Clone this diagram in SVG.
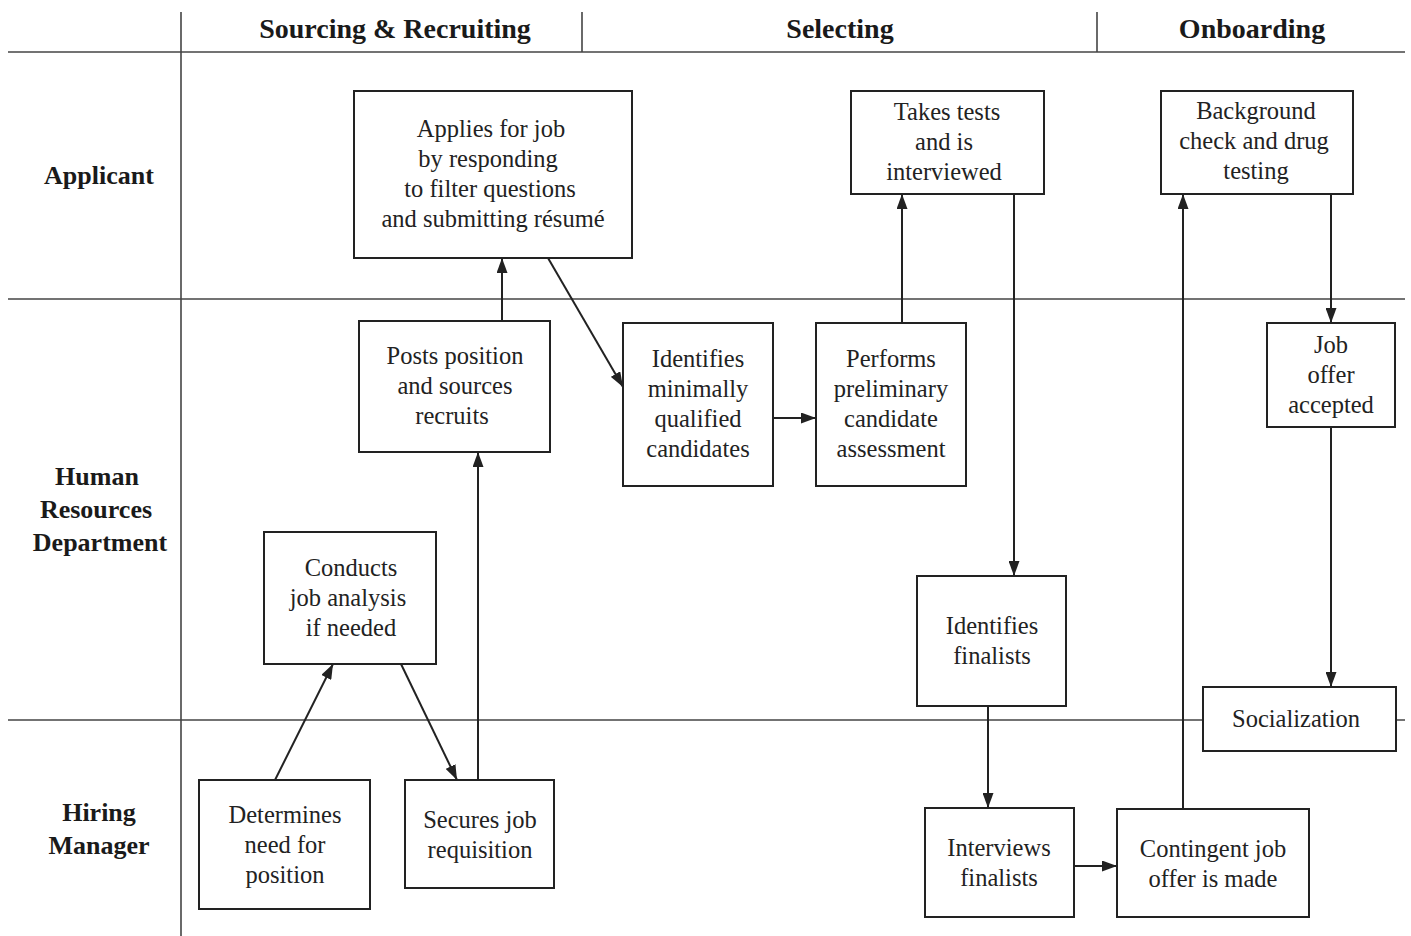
<svg xmlns="http://www.w3.org/2000/svg" width="1411" height="936" viewBox="0 0 1411 936">
<style>
.lane{stroke:#444;stroke-width:1.6;fill:none}
.box{fill:#fff;stroke:#222;stroke-width:2}
.t{font-family:"Liberation Serif","Times New Roman",serif;font-size:24.5px;fill:#222;text-anchor:middle}
.h{font-family:"Liberation Serif","Times New Roman",serif;font-size:28px;font-weight:bold;fill:#1a1a1a;text-anchor:middle}
.l{font-family:"Liberation Serif","Times New Roman",serif;font-size:26px;font-weight:bold;fill:#1a1a1a;text-anchor:middle}
.c{stroke:#222;stroke-width:2;fill:none;marker-end:url(#ah)}
</style>
<defs>
<marker id="ah" viewBox="0 0 15 11" refX="15" refY="5.5" markerWidth="15" markerHeight="11" markerUnits="userSpaceOnUse" orient="auto">
<path d="M0,0 L15,5.5 L0,11 Z" fill="#222"/>
</marker>
</defs>
<rect width="1411" height="936" fill="#fff"/>
<g id="lanes">
<line class="lane" x1="8" y1="52" x2="1405" y2="52"/>
<line class="lane" x1="8" y1="299" x2="1405" y2="299"/>
<line class="lane" x1="8" y1="720" x2="1405" y2="720"/>
<line class="lane" x1="181" y1="12" x2="181" y2="936"/>
<line class="lane" x1="582" y1="12" x2="582" y2="52"/>
<line class="lane" x1="1097" y1="12" x2="1097" y2="52"/>
<text class="h" x="395" y="38">Sourcing &amp; Recruiting</text>
<text class="h" x="840" y="38">Selecting</text>
<text class="h" x="1252" y="38">Onboarding</text>
<text class="l" x="99" y="184">Applicant</text>
<text class="l" x="97" y="485">Human</text>
<text class="l" x="96" y="518">Resources</text>
<text class="l" x="100" y="551">Department</text>
<text class="l" x="99" y="821">Hiring</text>
<text class="l" x="99" y="854">Manager</text>
</g>
<g id="connectors">
<line class="c" x1="502" y1="321" x2="502" y2="258"/>
<line class="c" x1="548" y1="258" x2="623" y2="387"/>
<line class="c" x1="773" y1="418" x2="816" y2="418"/>
<line class="c" x1="902" y1="323" x2="902" y2="194"/>
<line class="c" x1="1014" y1="194" x2="1014" y2="576"/>
<line class="c" x1="988" y1="706" x2="988" y2="808"/>
<line class="c" x1="1074" y1="866" x2="1117" y2="866"/>
<line class="c" x1="1183" y1="809" x2="1183" y2="194"/>
<line class="c" x1="1331" y1="194" x2="1331" y2="323"/>
<line class="c" x1="1331" y1="427" x2="1331" y2="687"/>
<line class="c" x1="275" y1="780" x2="333" y2="664"/>
<line class="c" x1="401" y1="664" x2="457" y2="780"/>
<line class="c" x1="478" y1="780" x2="478" y2="452"/>
</g>
<g id="n-applies">
<rect class="box" x="354" y="91" width="278" height="167"/>
<text class="t" x="491" y="137">Applies for job</text>
<text class="t" x="488" y="167">by responding</text>
<text class="t" x="490" y="197">to filter questions</text>
<text class="t" x="493" y="227">and submitting résumé</text>
</g>
<g id="n-takes">
<rect class="box" x="851" y="91" width="193" height="103"/>
<text class="t" x="947" y="120">Takes tests</text>
<text class="t" x="944" y="150">and is</text>
<text class="t" x="944" y="180">interviewed</text>
</g>
<g id="n-background">
<rect class="box" x="1161" y="91" width="192" height="103"/>
<text class="t" x="1256" y="119">Background</text>
<text class="t" x="1254" y="149">check and drug</text>
<text class="t" x="1256" y="179">testing</text>
</g>
<g id="n-posts">
<rect class="box" x="359" y="321" width="191" height="131"/>
<text class="t" x="455" y="364">Posts position</text>
<text class="t" x="455" y="394">and sources</text>
<text class="t" x="452" y="424">recruits</text>
</g>
<g id="n-identifies-min">
<rect class="box" x="623" y="323" width="150" height="163"/>
<text class="t" x="698" y="367">Identifies</text>
<text class="t" x="698" y="397">minimally</text>
<text class="t" x="698" y="427">qualified</text>
<text class="t" x="698" y="457">candidates</text>
</g>
<g id="n-performs">
<rect class="box" x="816" y="323" width="150" height="163"/>
<text class="t" x="891" y="367">Performs</text>
<text class="t" x="891" y="397">preliminary</text>
<text class="t" x="891" y="427">candidate</text>
<text class="t" x="891" y="457">assessment</text>
</g>
<g id="n-joboffer">
<rect class="box" x="1267" y="323" width="128" height="104"/>
<text class="t" x="1331" y="353">Job</text>
<text class="t" x="1331" y="383">offer</text>
<text class="t" x="1331" y="413">accepted</text>
</g>
<g id="n-conducts">
<rect class="box" x="264" y="532" width="172" height="132"/>
<text class="t" x="351" y="576">Conducts</text>
<text class="t" x="348" y="606">job analysis</text>
<text class="t" x="351" y="636">if needed</text>
</g>
<g id="n-finalists">
<rect class="box" x="917" y="576" width="149" height="130"/>
<text class="t" x="992" y="634">Identifies</text>
<text class="t" x="992" y="664">finalists</text>
</g>
<g id="n-socialization">
<rect class="box" x="1203" y="687" width="193" height="64"/>
<text class="t" x="1296" y="727">Socialization</text>
</g>
<g id="n-determines">
<rect class="box" x="199" y="780" width="171" height="129"/>
<text class="t" x="285" y="823">Determines</text>
<text class="t" x="285" y="853">need for</text>
<text class="t" x="285" y="883">position</text>
</g>
<g id="n-secures">
<rect class="box" x="405" y="780" width="149" height="108"/>
<text class="t" x="480" y="828">Secures job</text>
<text class="t" x="480" y="858">requisition</text>
</g>
<g id="n-interviews">
<rect class="box" x="925" y="808" width="149" height="109"/>
<text class="t" x="999" y="856">Interviews</text>
<text class="t" x="999" y="886">finalists</text>
</g>
<g id="n-contingent">
<rect class="box" x="1117" y="809" width="192" height="108"/>
<text class="t" x="1213" y="857">Contingent job</text>
<text class="t" x="1213" y="887">offer is made</text>
</g>
</svg>
